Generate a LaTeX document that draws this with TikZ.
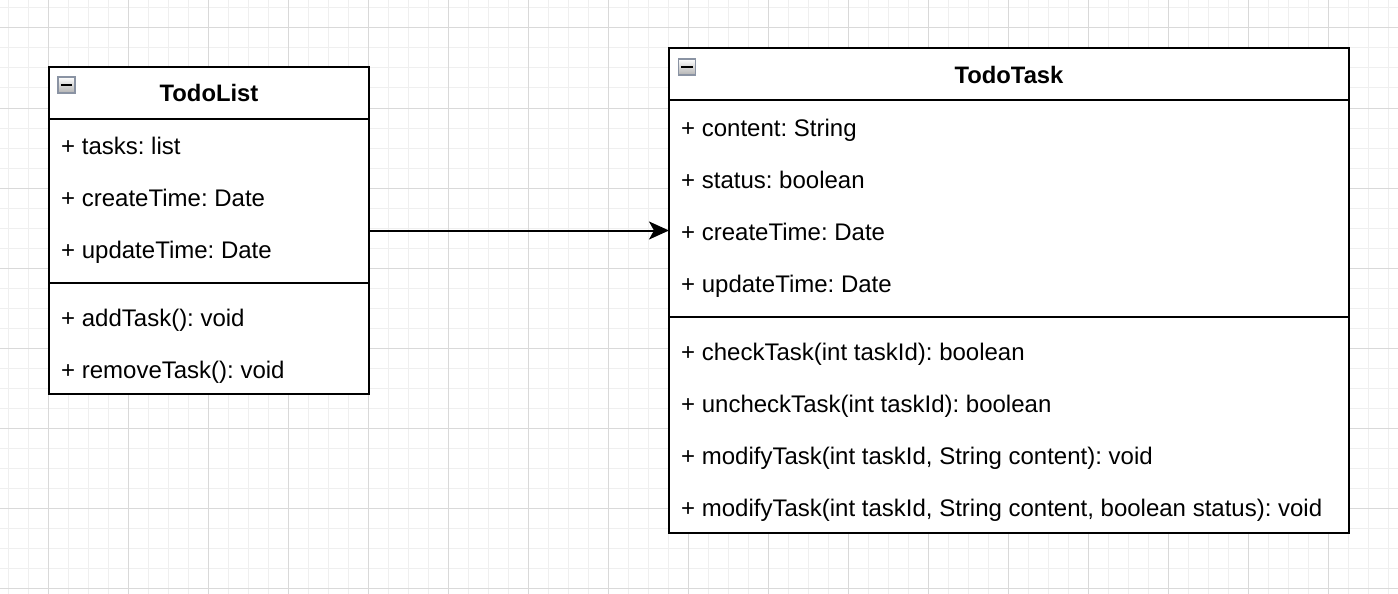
\documentclass[tikz,border=0pt]{standalone}
\usepackage{fontspec}
\setmainfont{Liberation Sans}
\usetikzlibrary{arrows.meta,calc}
\frenchspacing
\definecolor{gridminor}{HTML}{EFEFEF}
\definecolor{gridmajor}{HTML}{D9D9D9}
\definecolor{iconborder}{HTML}{8A93A3}
\tikzset{
  classbox/.style={draw=black,line width=2pt,fill=white,minimum width=#1,inner sep=0pt,outer sep=0pt},
  member/.style={anchor=base west,inner sep=0pt,font=\fontsize{24}{28}\selectfont\frenchspacing},
  ctitle/.style={anchor=base,inner sep=0pt,font=\fontsize{23.8}{28}\selectfont\bfseries},
  sepline/.style={line width=2pt},
  collapse/.style={draw=iconborder,line width=1.5pt,top color=white,bottom color=black!30,minimum width=17pt,minimum height=16pt,inner sep=0pt},
  minusbar/.style={line width=2.2pt},
  conn/.style={line width=2pt,-{Stealth[length=20pt,width=18pt,inset=5pt]}}
}
\begin{document}
\begin{tikzpicture}[x=1pt,y=-1pt]
\useasboundingbox (0,0) rectangle (1398,594);
\fill[white] (0,0) rectangle (1398,594);
% grid
\foreach \i in {0,...,69} { \draw[gridminor,line width=1pt] (8+20*\i,0) -- (8+20*\i,594); }
\foreach \i in {0,...,29} { \draw[gridminor,line width=1pt] (0,8+20*\i) -- (1398,8+20*\i); }
\foreach \i in {0,...,17} { \draw[gridmajor,line width=1pt] (48+80*\i,0) -- (48+80*\i,594); }
\foreach \i in {0,...,7} { \draw[gridmajor,line width=1pt] (0,28+80*\i) -- (1398,28+80*\i); }

% TodoList
\node[classbox=320pt,minimum height=327pt] (list) at (209,230.5) {};
\draw[sepline] (49,119) -- (369,119);
\draw[sepline] (49,283) -- (369,283);
\node[collapse] (listicon) at (66.5,85) {};
\draw[minusbar] ($(listicon.west)+(3.5,0)$) -- ($(listicon.east)+(-3.5,0)$);
\node[ctitle] (listtitle) at (209,101.5) {TodoList};
\node[member] (l1) at (61,154) {+ tasks: list};
\node[member] (l2) at (61,206) {+ createTime: Date};
\node[member] (l3) at (61,258) {+ updateTime: Date};
\node[member] (l4) at (61,326) {+ addTask(): void};
\node[member] (l5) at (61,378) {+ removeTask(): void};

% TodoTask
\node[classbox=680pt,minimum height=485pt] (task) at (1009,290.5) {};
\draw[sepline] (669,100) -- (1349,100);
\draw[sepline] (669,317) -- (1349,317);
\node[collapse] (taskicon) at (687,67) {};
\draw[minusbar] ($(taskicon.west)+(3.5,0)$) -- ($(taskicon.east)+(-3.5,0)$);
\node[ctitle] (tasktitle) at (1009,83.5) {TodoTask};
\node[member] (t1) at (681,136) {+ content: String};
\node[member] (t2) at (681,188) {+ status: boolean};
\node[member] (t3) at (681,240) {+ createTime: Date};
\node[member] (t4) at (681,292) {+ updateTime: Date};
\node[member] (t5) at (681,360) {+ checkTask(int taskId): boolean};
\node[member] (t6) at (681,412) {+ uncheckTask(int taskId): boolean};
\node[member] (t7) at (681,464) {+ modifyTask(int taskId, String content): void};
\node[member] (t8) at (681,516) {+ modifyTask(int taskId, String content, boolean status): void};

% connector
\draw[conn] (list.east) -- (task.west |- list.east);
\end{tikzpicture}
\end{document}
